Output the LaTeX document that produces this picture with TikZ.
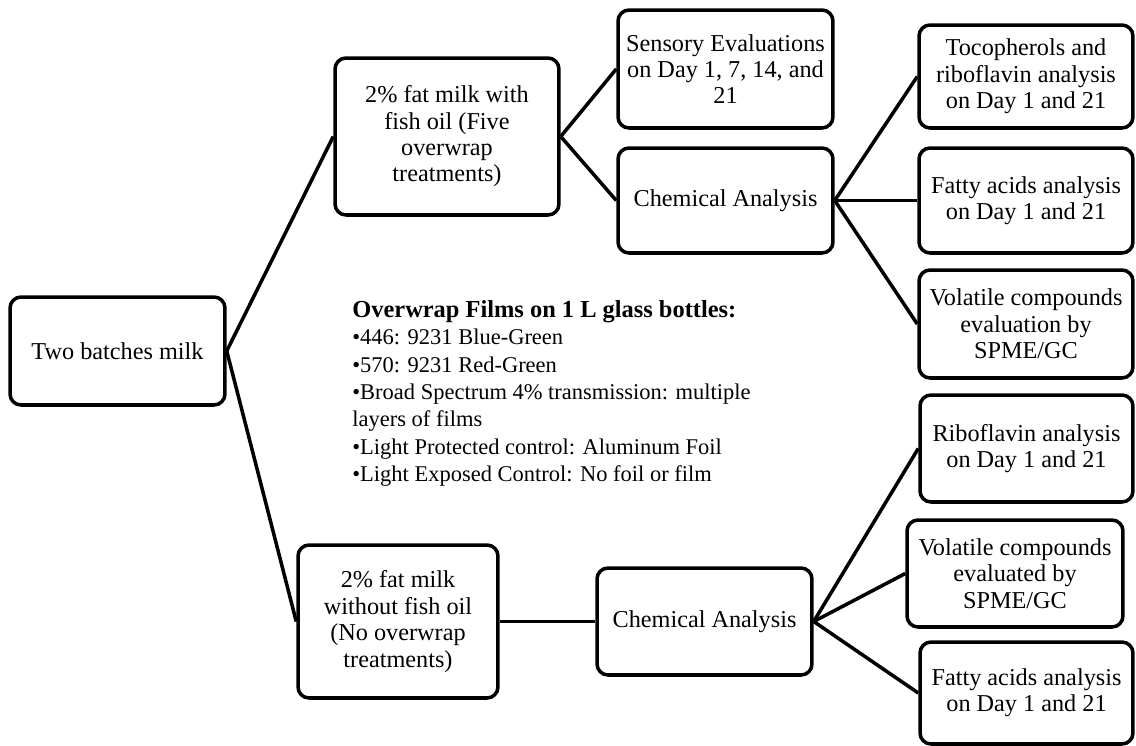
\documentclass[tikz,border=0pt]{standalone}
\usepackage{fontspec}
\setmainfont{Liberation Serif}
\usepackage{tikz}

\begin{document}
\begin{tikzpicture}[x=0.02cm,y=-0.02cm,
  box/.style={draw,line width=2pt,rounded corners=0.22cm,align=center,inner sep=1pt,
    font=\fontsize{13.8}{15}\selectfont},
  link/.style={line width=2pt}]
\useasboundingbox (0,0) rectangle (1136,745);
\node[box,minimum width=4.3cm,minimum height=2.16cm] (batches) at (117.5,351) {Two batches milk};
\node[box,minimum width=4.48cm,minimum height=3.14cm] (milkfish) at (447,136.5) {2\% fat milk with\\fish oil (Five\\overwrap\\treatments)};
\node[box,minimum width=4.3cm,minimum height=2.36cm] (sensory) at (725.5,69) {Sensory Evaluations\\on Day 1, 7, 14, and\\21};
\node[box,minimum width=4.3cm,minimum height=2.1cm] (chemA) at (725.5,200.5) {Chemical Analysis};
\node[box,minimum width=4.28cm,minimum height=2.06cm] (toco) at (1026,76.5) {Tocopherols and\\riboflavin analysis\\on Day 1 and 21};
\node[box,minimum width=4.28cm,minimum height=2.1cm] (fattyA) at (1026,200.5) {Fatty acids analysis\\on Day 1 and 21};
\node[box,minimum width=4.28cm,minimum height=2.16cm] (volA) at (1026,324) {Volatile compounds\\evaluation by\\SPME/GC};
\node[box,minimum width=4.0cm,minimum height=3.06cm] (milkplain) at (398,621.5) {2\% fat milk\\without fish oil\\(No overwrap\\treatments)};
\node[box,minimum width=4.3cm,minimum height=2.14cm] (chemB) at (704.5,621.5) {Chemical Analysis};
\node[box,minimum width=4.26cm,minimum height=2.14cm] (ribo) at (1026.5,448.5) {Riboflavin analysis\\on Day 1 and 21};
\node[box,minimum width=4.32cm,minimum height=2.14cm] (volB) at (1015,573.5) {Volatile compounds\\evaluated by\\SPME/GC};
\node[box,minimum width=4.26cm,minimum height=2.04cm] (fattyB) at (1026.5,693) {Fatty acids analysis\\on Day 1 and 21};
\node[anchor=north west,align=left,inner sep=0pt,font=\fontsize{12.8}{15.6}\selectfont] (films) at (352,300)
  {{\fontsize{13.9}{15.6}\selectfont\bfseries Overwrap Films on 1 L glass bottles:}\\
   •446: 9231 Blue-Green\\
   •570: 9231 Red-Green\\
   •Broad Spectrum 4\% transmission: multiple\\
   layers of films\\
   •Light Protected control: Aluminum Foil\\
   •Light Exposed Control: No foil or film};
\draw[link] (batches.east) -- (milkfish.west);
\draw[link] (batches.east) -- (milkplain.west);
\draw[link] (milkfish.east) -- (sensory.west);
\draw[link] (milkfish.east) -- (chemA.west);
\draw[link] (chemA.east) -- (toco.west);
\draw[link] (chemA.east) -- (fattyA.west);
\draw[link] (chemA.east) -- (volA.west);
\draw[link] (milkplain.east) -- (chemB.west);
\draw[link] (chemB.east) -- (ribo.west);
\draw[link] (chemB.east) -- (volB.west);
\draw[link] (chemB.east) -- (fattyB.west);
\end{tikzpicture}
\end{document}
